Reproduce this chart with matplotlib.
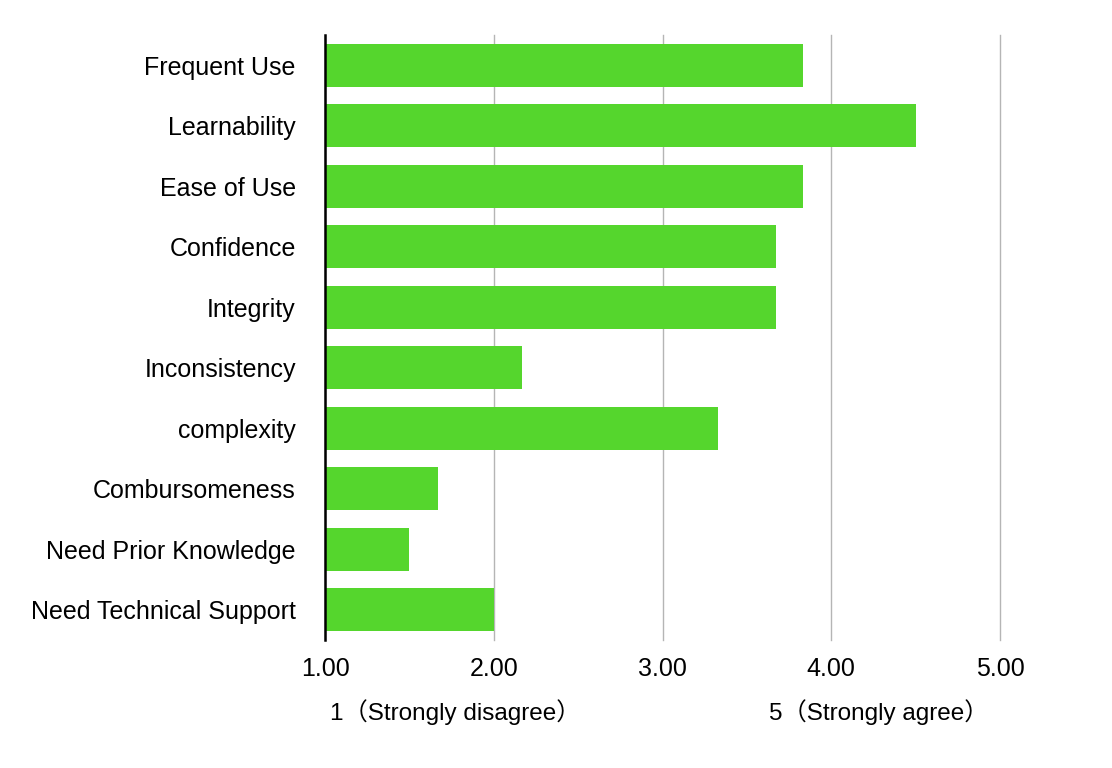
import matplotlib
matplotlib.use("Agg")
import matplotlib.pyplot as plt

# Survey items (top to bottom) and mean scores
items = [
    "Frequent Use",
    "Learnability",
    "Ease of Use",
    "Confidence",
    "Integrity",
    "Inconsistency",
    "complexity",
    "Combursomeness",
    "Need Prior Knowledge",
    "Need Technical Support",
]
scores = [3.83, 4.50, 3.83, 3.67, 3.67, 2.17, 3.33, 1.67, 1.50, 2.00]
x_ticks = [1, 2, 3, 4, 5]
scale_notes = ["1（Strongly disagree）", "5（Strongly agree）"]

plt.rcParams["font.family"] = ["Liberation Sans", "Noto Sans CJK SC", "DejaVu Sans"]

fig = plt.figure(figsize=(11.12, 7.68), dpi=100)
ax = fig.add_axes([0.2923, 0.1667, 0.607, 0.7877])

pos = list(range(len(items)))
ax.barh(pos, [s - 1 for s in scores], left=1, height=0.71, color="#55d62d", zorder=3)

ax.set_xlim(1, 5)
ax.set_ylim(len(items) - 0.5, -0.5)
ax.set_yticks(pos)
ax.set_yticklabels(items, fontsize=18, va="center_baseline")
ax.set_xticks(x_ticks)
ax.set_xticklabels([f"{t:.2f}" for t in x_ticks], fontsize=18)
ax.tick_params(length=0)
ax.tick_params(axis="x", pad=12)
ax.tick_params(axis="y", pad=21)

ax.grid(axis="x", color="#b5b5b5", linewidth=1, zorder=0)
for gl in ax.get_xgridlines():
    gl.set_clip_on(False)
for side in ["top", "right", "bottom"]:
    ax.spines[side].set_visible(False)
ax.spines["left"].set_color("black")
ax.spines["left"].set_linewidth(1.8)
ax.spines["left"].set_zorder(4)

ax.text(1.03, -0.12, scale_notes[0], transform=ax.get_xaxis_transform(),
        fontsize=17.5, ha="left", va="center")
ax.text(3.63, -0.12, scale_notes[1], transform=ax.get_xaxis_transform(),
        fontsize=17.5, ha="left", va="center")

fig.savefig("out.png", dpi=100)
